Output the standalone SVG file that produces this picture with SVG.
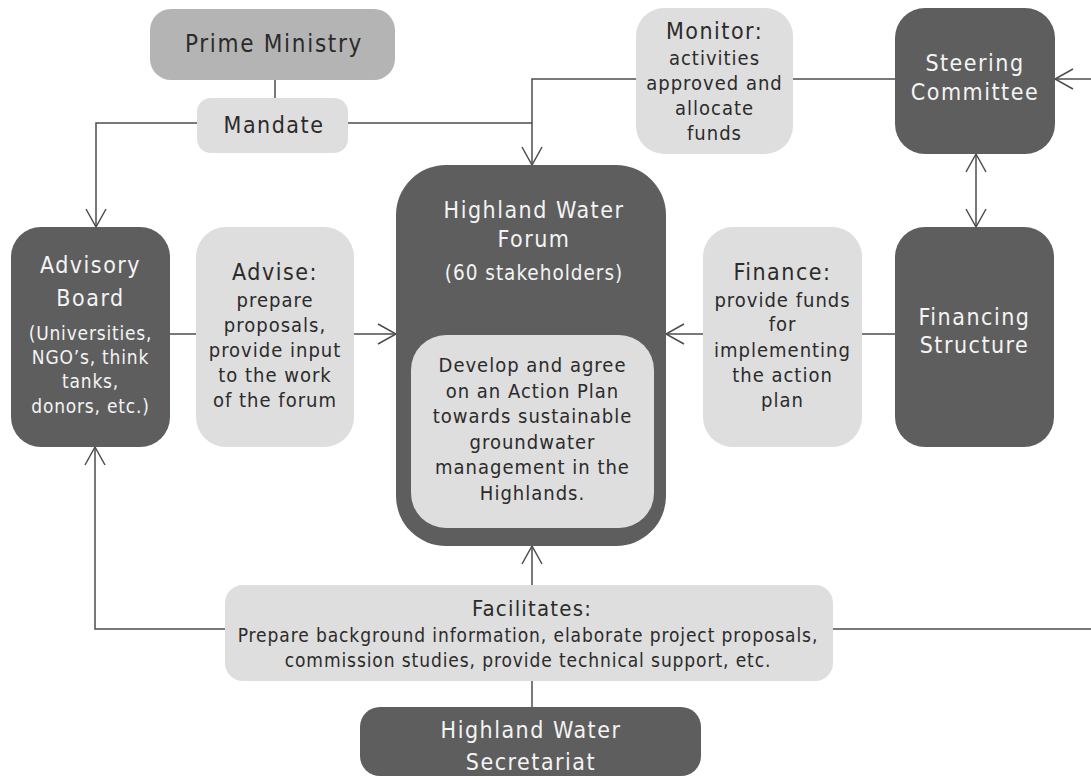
<svg xmlns="http://www.w3.org/2000/svg" width="1091" height="776" viewBox="0 0 1091 776">
<style>
text{font-family:'DejaVu Sans Condensed','DejaVu Sans',sans-serif;font-stretch:condensed;text-anchor:middle}
.dark{fill:#5e5e5e}
.light{fill:#dedede}
.mid{fill:#b4b4b4}
.w{fill:#f4f4f4}
.k{fill:#2b2b2b}
.t{font-size:23px;letter-spacing:1.5px}
.b{font-size:20px;letter-spacing:1px}
.s{font-size:19px;letter-spacing:0.9px}
.c{fill:none;stroke:#4d4d4d;stroke-width:1.5}
</style>
<defs>
<marker id="arr" markerUnits="userSpaceOnUse" markerWidth="24" markerHeight="26" viewBox="-20 -13 22 26" refX="0" refY="0" orient="auto-start-reverse">
<path d="M-18,-10 L0,0 L-18,10" fill="none" stroke="#4d4d4d" stroke-width="1.5"/>
</marker>
</defs>
<rect width="1091" height="776" fill="#ffffff"/>
<g id="connectors">
<path class="c" d="M275,80 V98"/>
<path class="c" d="M197,123 H96 V227" marker-end="url(#arr)"/>
<path class="c" d="M348,123 H532"/>
<path class="c" d="M636,79 H532 V165" marker-end="url(#arr)"/>
<path class="c" d="M895,79 H793"/>
<path class="c" d="M1091,79 H1055" marker-end="url(#arr)"/>
<path class="c" d="M976,154 V227" marker-start="url(#arr)" marker-end="url(#arr)"/>
<path class="c" d="M895,334 H862"/>
<path class="c" d="M703,334 H666" marker-end="url(#arr)"/>
<path class="c" d="M170,334 H196"/>
<path class="c" d="M354,334 H396" marker-end="url(#arr)"/>
<path class="c" d="M532,585 V546" marker-end="url(#arr)"/>
<path class="c" d="M225,629 H95 V447" marker-end="url(#arr)"/>
<path class="c" d="M833,629 H1091"/>
<path class="c" d="M532,707 V681"/>
</g>
<g id="prime-ministry">
<rect class="mid" x="150" y="9" width="245" height="71" rx="21"/>
<text class="t k" x="274" y="52" style="font-size:24px;letter-spacing:1.7px">Prime Ministry</text>
</g>
<g id="mandate">
<rect class="light" x="197" y="98" width="151" height="55" rx="14"/>
<text class="t k" x="274" y="133">Mandate</text>
</g>
<g id="monitor">
<rect class="light" x="636" y="8" width="157" height="146" rx="28"/>
<text class="t k" x="714.5" y="39">Monitor:</text>
<text class="b k" x="714.5" y="65">activities</text>
<text class="b k" x="714.5" y="90">approved and</text>
<text class="b k" x="714.5" y="115">allocate</text>
<text class="b k" x="714.5" y="140">funds</text>
</g>
<g id="steering-committee">
<rect class="dark" x="895" y="8" width="160" height="146" rx="30"/>
<text class="t w" x="975" y="71">Steering</text>
<text class="t w" x="975" y="100">Committee</text>
</g>
<g id="advisory-board">
<rect class="dark" x="11" y="227" width="159" height="220" rx="30"/>
<text class="t w" x="90.5" y="273">Advisory</text>
<text class="t w" x="90.5" y="306">Board</text>
<text class="b w" x="90.5" y="340" style="font-size:19px;letter-spacing:0.8px">(Universities,</text>
<text class="b w" x="90.5" y="364" style="font-size:19px;letter-spacing:0.8px">NGO’s, think</text>
<text class="b w" x="90.5" y="388" style="font-size:19px;letter-spacing:0.8px">tanks,</text>
<text class="b w" x="90.5" y="413" style="font-size:19px;letter-spacing:0.8px">donors, etc.)</text>
</g>
<g id="advise">
<rect class="light" x="196" y="227" width="158" height="220" rx="30"/>
<text class="t k" x="275" y="280">Advise:</text>
<text class="b k" x="275" y="307">prepare</text>
<text class="b k" x="275" y="332">proposals,</text>
<text class="b k" x="275" y="357">provide input</text>
<text class="b k" x="275" y="382">to the work</text>
<text class="b k" x="275" y="407">of the forum</text>
</g>
<g id="highland-water-forum">
<rect class="dark" x="396" y="165" width="270" height="381" rx="50"/>
<text class="t w" x="534" y="218">Highland Water</text>
<text class="t w" x="534" y="247">Forum</text>
<text class="b w" x="534" y="280" style="font-size:20.5px">(60 stakeholders)</text>
<rect class="light" x="411" y="335" width="243" height="193" rx="35"/>
<text class="b k" x="532.5" y="372">Develop and agree</text>
<text class="b k" x="532.5" y="397.5">on an Action Plan</text>
<text class="b k" x="532.5" y="423">towards sustainable</text>
<text class="b k" x="532.5" y="448.5">groundwater</text>
<text class="b k" x="532.5" y="474">management in the</text>
<text class="b k" x="532.5" y="499.5">Highlands.</text>
</g>
<g id="finance">
<rect class="light" x="703" y="227" width="159" height="220" rx="30"/>
<text class="t k" x="782.5" y="280">Finance:</text>
<text class="b k" x="782.5" y="307">provide funds</text>
<text class="b k" x="782.5" y="331">for</text>
<text class="b k" x="782.5" y="357">implementing</text>
<text class="b k" x="782.5" y="382">the action</text>
<text class="b k" x="782.5" y="407">plan</text>
</g>
<g id="financing-structure">
<rect class="dark" x="895" y="227" width="159" height="220" rx="30"/>
<text class="t w" x="974.5" y="325">Financing</text>
<text class="t w" x="974.5" y="353">Structure</text>
</g>
<g id="facilitates">
<rect class="light" x="225" y="585" width="608" height="96" rx="18"/>
<text class="t k" x="532" y="616" style="font-size:22px;letter-spacing:1.2px">Facilitates:</text>
<text class="s k" x="528" y="642">Prepare background information, elaborate project proposals,</text>
<text class="s k" x="528" y="667">commission studies, provide technical support, etc.</text>
</g>
<g id="highland-water-secretariat">
<rect class="dark" x="360" y="707" width="341" height="69" rx="20"/>
<text class="t w" x="531" y="738">Highland Water</text>
<text class="t w" x="531" y="770">Secretariat</text>
</g>
</svg>
